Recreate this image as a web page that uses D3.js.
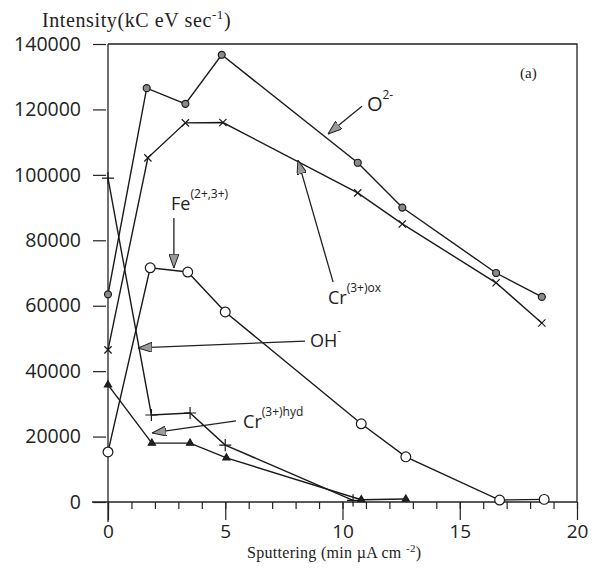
<!DOCTYPE html>
<html>
<head>
<meta charset="utf-8">
<script src="https://cdn.jsdelivr.net/npm/d3@7"></script>
<style>
  body { margin: 0; background: #fff; }
  text { fill: #222; }
</style>
</head>
<body>
<svg id="chart" width="594" height="569"></svg>
<script>
// values
const o2X = [0, 1.65, 3.3, 4.85, 10.65, 12.55, 16.55, 18.5];
const o2Y = [63500, 126500, 121700, 136700, 103700, 90000, 70000, 62700];
const crOxX = [0, 1.7, 3.3, 4.9, 10.65, 12.55, 16.55, 18.5];
const crOxY = [46500, 105200, 115900, 116000, 94500, 85000, 67000, 54700];
const feX = [0, 1.8, 3.4, 5.0, 10.8, 12.7, 16.7, 18.6];
const feY = [15300, 71600, 70300, 58100, 23900, 13800, 600, 800];
const ohX = [0, 1.85, 3.5, 5.0, 10.45];
const ohY = [99000, 26600, 27200, 17400, 500];
const crHydX = [0, 1.87, 3.5, 5.05, 10.8, 12.7];
const crHydY = [35800, 18000, 18000, 13500, 700, 900];

const yTicks = [0, 20000, 40000, 60000, 80000, 100000, 120000, 140000];
const xTicks = [0, 5, 10, 15, 20];
const xMinorTicks = d3.range(0, 21);

const svg = d3.select('#chart');
const x = d3.scaleLinear().domain([0, 20]).range([108, 577]);
const y = d3.scaleLinear().domain([0, 140000]).range([502, 44]);

const zip = (xs, ys) => xs.map((v, i) => [v, ys[i]]);

const series = [
    { name: 'o2', pts: zip(o2X, o2Y), symbol: d3.symbolCircle, size: 38, fill: '#8a8a8a' },
    { name: 'crOx', pts: zip(crOxX, crOxY), symbol: d3.symbolX, size: 36, fill: 'none' },
    { name: 'fe', pts: zip(feX, feY), symbol: d3.symbolCircle, size: 75, fill: '#fff' },
    { name: 'oh', pts: zip(ohX, ohY), symbol: d3.symbolPlus, size: 50, fill: 'none' },
    { name: 'crHyd', pts: zip(crHydX, crHydY), symbol: d3.symbolTriangle, size: 22, fill: '#222' }
];

// frame (top and right)
svg.append('path')
    .attr('d', `M${x(0)},${y(140000)}H${x(20)}V${y(0)}`)
    .attr('fill', 'none')
    .attr('stroke', '#222')
    .attr('stroke-width', 1.3);

// axes
const yAxis = svg.append('g')
    .attr('transform', `translate(${x(0) - 2},0)`)
    .call(d3.axisLeft(y).tickValues(yTicks).tickFormat(d3.format('d')).tickSize(13).tickPadding(12));
yAxis.select('.domain').remove();
yAxis.append('line')
    .attr('x1', 2).attr('x2', 2)
    .attr('y1', y(140000)).attr('y2', y(0) + 20)
    .attr('stroke', '#222').attr('stroke-width', 1.3);
yAxis.selectAll('text')
    .attr('font-family', 'Open Sans, sans-serif')
    .attr('font-size', 19.5)
    .style('fill', '#222');

const xAxisMinor = svg.append('g')
    .attr('transform', `translate(0,${y(0)})`)
    .call(d3.axisBottom(x).tickValues(xMinorTicks).tickFormat('').tickSize(7));
xAxisMinor.select('.domain').remove();

const xAxis = svg.append('g')
    .attr('transform', `translate(0,${y(0)})`)
    .call(d3.axisBottom(x).tickValues(xTicks).tickFormat(d3.format('d')).tickSize(18).tickPadding(5));
xAxis.select('.domain').remove();
xAxis.append('line')
    .attr('x1', x(0) - 16).attr('x2', x(20))
    .attr('stroke', '#222').attr('stroke-width', 1.3);
xAxis.selectAll('text')
    .attr('font-family', 'Open Sans, sans-serif')
    .attr('font-size', 19)
    .style('fill', '#222');
svg.selectAll('.tick line').attr('stroke', '#222').attr('stroke-width', 1.2);

// lines
const line = d3.line().x(d => x(d[0])).y(d => y(d[1]));
svg.append('g').selectAll('path')
    .data(series)
    .enter()
    .append('path')
    .attr('d', d => line(d.pts))
    .attr('fill', 'none')
    .attr('stroke', '#1a1a1a')
    .attr('stroke-width', 1.4);

// markers
svg.append('g').selectAll('g')
    .data(series)
    .enter()
    .append('g')
    .selectAll('path')
    .data(d => d.pts.map(p => ({ p, s: d })))
    .enter()
    .append('path')
    .attr('transform', ({ p }) => `translate(${x(p[0])},${y(p[1])})`)
    .attr('d', ({ s }) => d3.symbol().type(s.symbol).size(s.size)())
    .attr('fill', ({ s }) => s.fill)
    .attr('stroke', '#1a1a1a')
    .attr('stroke-width', 1.2);

// annotation arrows
svg.append('defs').append('marker')
    .attr('id', 'head')
    .attr('viewBox', '0 0 14 10')
    .attr('refX', 14).attr('refY', 5)
    .attr('markerWidth', 14).attr('markerHeight', 10)
    .attr('markerUnits', 'userSpaceOnUse')
    .attr('orient', 'auto')
    .append('path')
    .attr('d', 'M0,0L14,5L0,10Z')
    .attr('fill', '#9a9a9a')
    .attr('stroke', '#222')
    .attr('stroke-width', 1);

const arrows = [
    { from: [10.83, 121000], to: [9.38, 112500] },
    { from: [9.6, 67200], to: [8.1, 104500] },
    { from: [8.4, 49200], to: [1.28, 47100] },
    { from: [2.81, 86800], to: [2.81, 71500] },
    { from: [5.46, 24800], to: [1.88, 21100] }
];
svg.append('g').selectAll('line')
    .data(arrows)
    .enter()
    .append('line')
    .attr('x1', d => x(d.from[0])).attr('y1', d => y(d.from[1]))
    .attr('x2', d => x(d.to[0])).attr('y2', d => y(d.to[1]))
    .attr('stroke', '#222')
    .attr('stroke-width', 1.3)
    .attr('marker-end', 'url(#head)');

// species labels
const labels = [
    { at: [11.04, 119500], base: 'O', sup: '2-', size: 20 },
    { at: [9.38, 60500], base: 'Cr', sup: '(3+)ox', size: 18 },
    { at: [8.61, 47400], base: 'OH', sup: '-', size: 18 },
    { at: [2.69, 89300], base: 'Fe', sup: '(2+,3+)', size: 18 },
    { at: [5.76, 22600], base: 'Cr', sup: '(3+)hyd', size: 18 }
];
const lab = svg.append('g').selectAll('text')
    .data(labels)
    .enter()
    .append('text')
    .attr('x', d => x(d.at[0]))
    .attr('y', d => y(d.at[1]))
    .attr('font-family', 'Open Sans, sans-serif')
    .attr('font-size', d => d.size);
lab.append('tspan').text(d => d.base);
lab.append('tspan')
    .attr('dy', -12)
    .attr('font-size', 12)
    .text(d => d.sup);

svg.append('text')
    .attr('x', x(17.57)).attr('y', y(129600))
    .attr('font-family', 'Liberation Serif, serif')
    .attr('font-size', 15)
    .text('(a)');

// axis titles
const yTitle = svg.append('text')
    .attr('x', 42).attr('y', 27)
    .attr('font-family', 'Liberation Serif, serif')
    .attr('font-size', 20)
    .attr('letter-spacing', 0.6);
yTitle.append('tspan').text('Intensity(kC eV sec');
yTitle.append('tspan').attr('dy', -8).attr('font-size', 13).text('-1');
yTitle.append('tspan').attr('dy', 8).text(')');

const xTitle = svg.append('text')
    .attr('x', 247).attr('y', 558)
    .attr('font-family', 'Liberation Serif, serif')
    .attr('font-size', 16)
    .attr('letter-spacing', 0.3);
xTitle.append('tspan').text('Sputtering  (min µA cm ');
xTitle.append('tspan').attr('dy', -6).attr('font-size', 11).text('-2');
xTitle.append('tspan').attr('dy', 6).text(')');
</script>
</body>
</html>
